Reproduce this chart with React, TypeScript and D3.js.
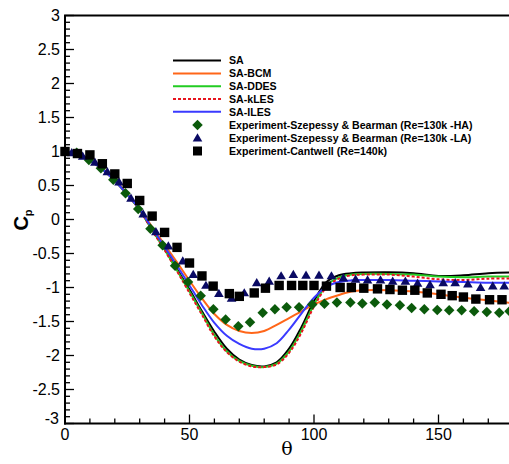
import React from "react";
import * as d3 from "d3";

const thetaCurve = [0,5,10,15,20,25,30,35,40,45,50,55,60,65,70,75,80,85,90,95,100,105,110,115,120,130,140,150,160,170,180];
const cpSA    = [1.0,0.97,0.87,0.74,0.57,0.37,0.14,-0.15,-0.43,-0.73,-1.03,-1.35,-1.65,-1.90,-2.06,-2.14,-2.16,-2.10,-1.90,-1.58,-1.20,-0.92,-0.82,-0.79,-0.78,-0.775,-0.79,-0.83,-0.82,-0.79,-0.78];
const cpBCM   = [1.0,0.97,0.88,0.75,0.58,0.38,0.16,-0.11,-0.37,-0.63,-0.90,-1.16,-1.39,-1.55,-1.64,-1.67,-1.64,-1.55,-1.45,-1.35,-1.25,-1.17,-1.11,-1.06,-1.04,-1.04,-1.06,-1.10,-1.15,-1.19,-1.23];
const cpDDES  = [1.0,0.97,0.87,0.74,0.57,0.37,0.14,-0.15,-0.44,-0.75,-1.06,-1.38,-1.70,-1.94,-2.08,-2.15,-2.17,-2.12,-1.94,-1.63,-1.25,-0.97,-0.85,-0.81,-0.80,-0.80,-0.81,-0.84,-0.85,-0.84,-0.84];
const cpKLES  = [1.0,0.97,0.87,0.74,0.57,0.37,0.14,-0.16,-0.45,-0.76,-1.08,-1.40,-1.72,-1.95,-2.09,-2.16,-2.17,-2.13,-1.96,-1.66,-1.28,-1.00,-0.87,-0.82,-0.81,-0.81,-0.84,-0.88,-0.89,-0.87,-0.87];
const cpILES  = [1.0,0.97,0.87,0.74,0.57,0.37,0.15,-0.13,-0.40,-0.68,-0.97,-1.26,-1.52,-1.71,-1.83,-1.90,-1.90,-1.82,-1.62,-1.38,-1.15,-0.99,-0.92,-0.895,-0.89,-0.89,-0.90,-0.91,-0.92,-0.93,-0.93];

const thetaHA = [4.7,9.6,14.4,19.4,24.3,29.4,34.3,39.2,44.2,49.4,54.5,59.6,64.5,69.6,74.3,79.4,84.3,89,94,99.3,104.2,109.2,114.6,119.4,124.4,129.3,134.5,139.2,144.3,149.5,154.3,159.3,164.3,169.4,174.4,178.5];
const cpHA    = [0.98,0.875,0.755,0.585,0.385,0.155,-0.135,-0.38,-0.68,-0.92,-1.12,-1.32,-1.47,-1.57,-1.51,-1.37,-1.32,-1.29,-1.29,-1.25,-1.24,-1.22,-1.22,-1.235,-1.22,-1.25,-1.26,-1.30,-1.32,-1.33,-1.335,-1.335,-1.35,-1.36,-1.37,-1.35];

const thetaLA = [2.7,7.1,12,17,21.7,26.5,31.4,36.5,41.5,47.3,51.5,56.6,61.8,66.9,72,77,82,86.8,91.7,96.8,102,107,111.8,116.7,121.5,126.7,131.6,136.7,141.6,146.6,151.9,156.7,161.8,166.9,171.8,176.4];
const cpLA    = [0.98,0.93,0.84,0.70,0.55,0.31,0.08,-0.18,-0.39,-0.61,-0.81,-0.97,-1.09,-1.16,-1.08,-0.93,-0.91,-0.83,-0.81,-0.82,-0.82,-0.83,-0.86,-0.88,-0.89,-0.89,-0.91,-0.91,-0.94,-0.96,-0.93,-0.93,-0.95,-1.00,-0.98,-0.98];

const thetaCW = [0,5,10,15,20,25,30,35,40,45,50,55,59.5,66,70,76,80.5,86,91,95.5,100,105,110.5,115,120,125.5,130.5,135.5,140.5,145.5,151,155.5,160,165,170.5,175.5];
const cpCW    = [1.0,0.97,0.95,0.82,0.67,0.53,0.28,0.05,-0.19,-0.41,-0.64,-0.83,-0.98,-1.09,-1.13,-1.08,-1.01,-0.97,-0.97,-0.97,-0.97,-0.98,-1.0,-1.0,-1.01,-1.02,-1.03,-1.04,-1.04,-1.08,-1.10,-1.12,-1.14,-1.17,-1.18,-1.18];

const curveNames = ["SA", "SA-BCM", "SA-DDES", "SA-kLES", "SA-ILES"];
const markerNames = [
  "Experiment-Szepessy & Bearman (Re=130k -HA)",
  "Experiment-Szepessy & Bearman (Re=130k -LA)",
  "Experiment-Cantwell (Re=140k)",
];
const xTicks = [0, 50, 100, 150];
const yTicks = [-3, -2.5, -2, -1.5, -1, -0.5, 0, 0.5, 1, 1.5, 2, 2.5, 3];

const W = 509, H = 464;
const FONT = "'Liberation Sans', Arial, Helvetica, sans-serif";

export default function App() {
  const x = d3.scaleLinear().domain([0, 180]).range([65, 513.2]);
  const y = d3.scaleLinear().domain([-3, 3]).range([423.5, 15.5]);
  const line = d3.line<[number, number]>().x(d => x(d[0])).y(d => y(d[1])).curve(d3.curveCatmullRom.alpha(0.5));
  const mk = (arr: number[]) => thetaCurve.map((t, i) => [t, arr[i]] as [number, number]);

  const curves = [
    { name: curveNames[0], data: cpSA, color: "#000000", dash: undefined },
    { name: curveNames[1], data: cpBCM, color: "#ff6619", dash: undefined },
    { name: curveNames[2], data: cpDDES, color: "#22cc22", dash: undefined },
    { name: curveNames[3], data: cpKLES, color: "#e8141e", dash: "3,2" },
    { name: curveNames[4], data: cpILES, color: "#3a3aff", dash: undefined },
  ];

  const yMinor = d3.range(-30, 31).map(v => v / 10);
  const xMinor = d3.range(0, 181, 10);

  const diamond = d3.symbol().type(d3.symbolDiamond2).size(70)()!;
  const triangle = (cx: number, cy: number) => `M${cx},${cy - 4.8}L${cx + 4.8},${cy + 3.4}L${cx - 4.8},${cy + 3.4}Z`;

  const legendY = [60.5, 73.5, 86.3, 99, 111.8, 125, 138, 151];

  return (
    <div style={{ position: "absolute", left: 0, top: 0 }}>
      <svg width={W} height={H} style={{ display: "block", background: "#fff" }} fontFamily={FONT}>
        {yMinor.map((v, i) => {
          const major = Math.abs(v * 2 - Math.round(v * 2)) < 1e-6;
          return <line key={"ym" + i} x1={65} x2={65 + (major ? 9 : 5)} y1={y(v)} y2={y(v)} stroke="#000" strokeWidth={1.3} />;
        })}
        {xMinor.map((v, i) => {
          const major = v % 50 === 0;
          return <line key={"xm" + i} x1={x(v)} x2={x(v)} y1={y(-3)} y2={y(-3) - (major ? 9 : 5)} stroke="#000" strokeWidth={1.3} />;
        })}
        {curves.map(c => (
          <path key={c.name} d={line(mk(c.data))!} fill="none" stroke={c.color} strokeWidth={2} strokeDasharray={c.dash} />
        ))}
        {thetaHA.map((t, i) => (
          <path key={"ha" + i} d={diamond} transform={`translate(${x(t)},${y(cpHA[i])})`} fill="#0b5a0b" />
        ))}
        {thetaLA.map((t, i) => (
          <path key={"la" + i} d={triangle(x(t), y(cpLA[i]))} fill="#0a0a64" />
        ))}
        {thetaCW.map((t, i) => (
          <rect key={"cw" + i} x={x(t) - 4.7} y={y(cpCW[i]) - 4.7} width={9.4} height={9.4} fill="#000" />
        ))}
        <line x1={65} x2={65} y1={y(3)} y2={y(-3) + 1} stroke="#000" strokeWidth={2} />
        <line x1={64} x2={W} y1={y(-3)} y2={y(-3)} stroke="#000" strokeWidth={2} />
        <line x1={64} x2={W} y1={y(3)} y2={y(3)} stroke="#000" strokeWidth={2} />
        {yTicks.map(v => (
          <text key={"yl" + v} x={v === -3 ? 59 : 60} y={y(v) + (v === -3 ? 0 : 5.5)} textAnchor="end" fontSize={16}>{String(v)}</text>
        ))}
        {xTicks.map(v => (
          <text key={"xl" + v} x={x(v)} y={440} textAnchor="middle" fontSize={16}>{String(v)}</text>
        ))}
        <text x={287} y={455} textAnchor="middle" fontSize={19} fontFamily="'DejaVu Serif', serif">θ</text>
        <g transform="translate(28,220) rotate(-90)">
          <text textAnchor="middle" fontSize={20} fontWeight="bold">C<tspan fontSize={11} dy={4}>p</tspan></text>
        </g>
        {curves.map((c, i) => (
          <g key={"lg" + i}>
            <line x1={173} x2={221} y1={legendY[i]} y2={legendY[i]} stroke={c.color} strokeWidth={2} strokeDasharray={c.dash} />
            <text x={229} y={legendY[i] + 3.8} fontSize={10.6} fontWeight="bold">{c.name}</text>
          </g>
        ))}
        <path d={diamond} transform={`translate(197.5,${legendY[5]})`} fill="#0b5a0b" />
        <path d={triangle(197.5, legendY[6])} fill="#0a0a64" />
        <rect x={193} y={legendY[7] - 4.5} width={9} height={9} fill="#000" />
        {markerNames.map((n, i) => (
          <text key={"mn" + i} x={229} y={legendY[5 + i] + 3.8} fontSize={10.6} fontWeight="bold">{n}</text>
        ))}
      </svg>
    </div>
  );
}
